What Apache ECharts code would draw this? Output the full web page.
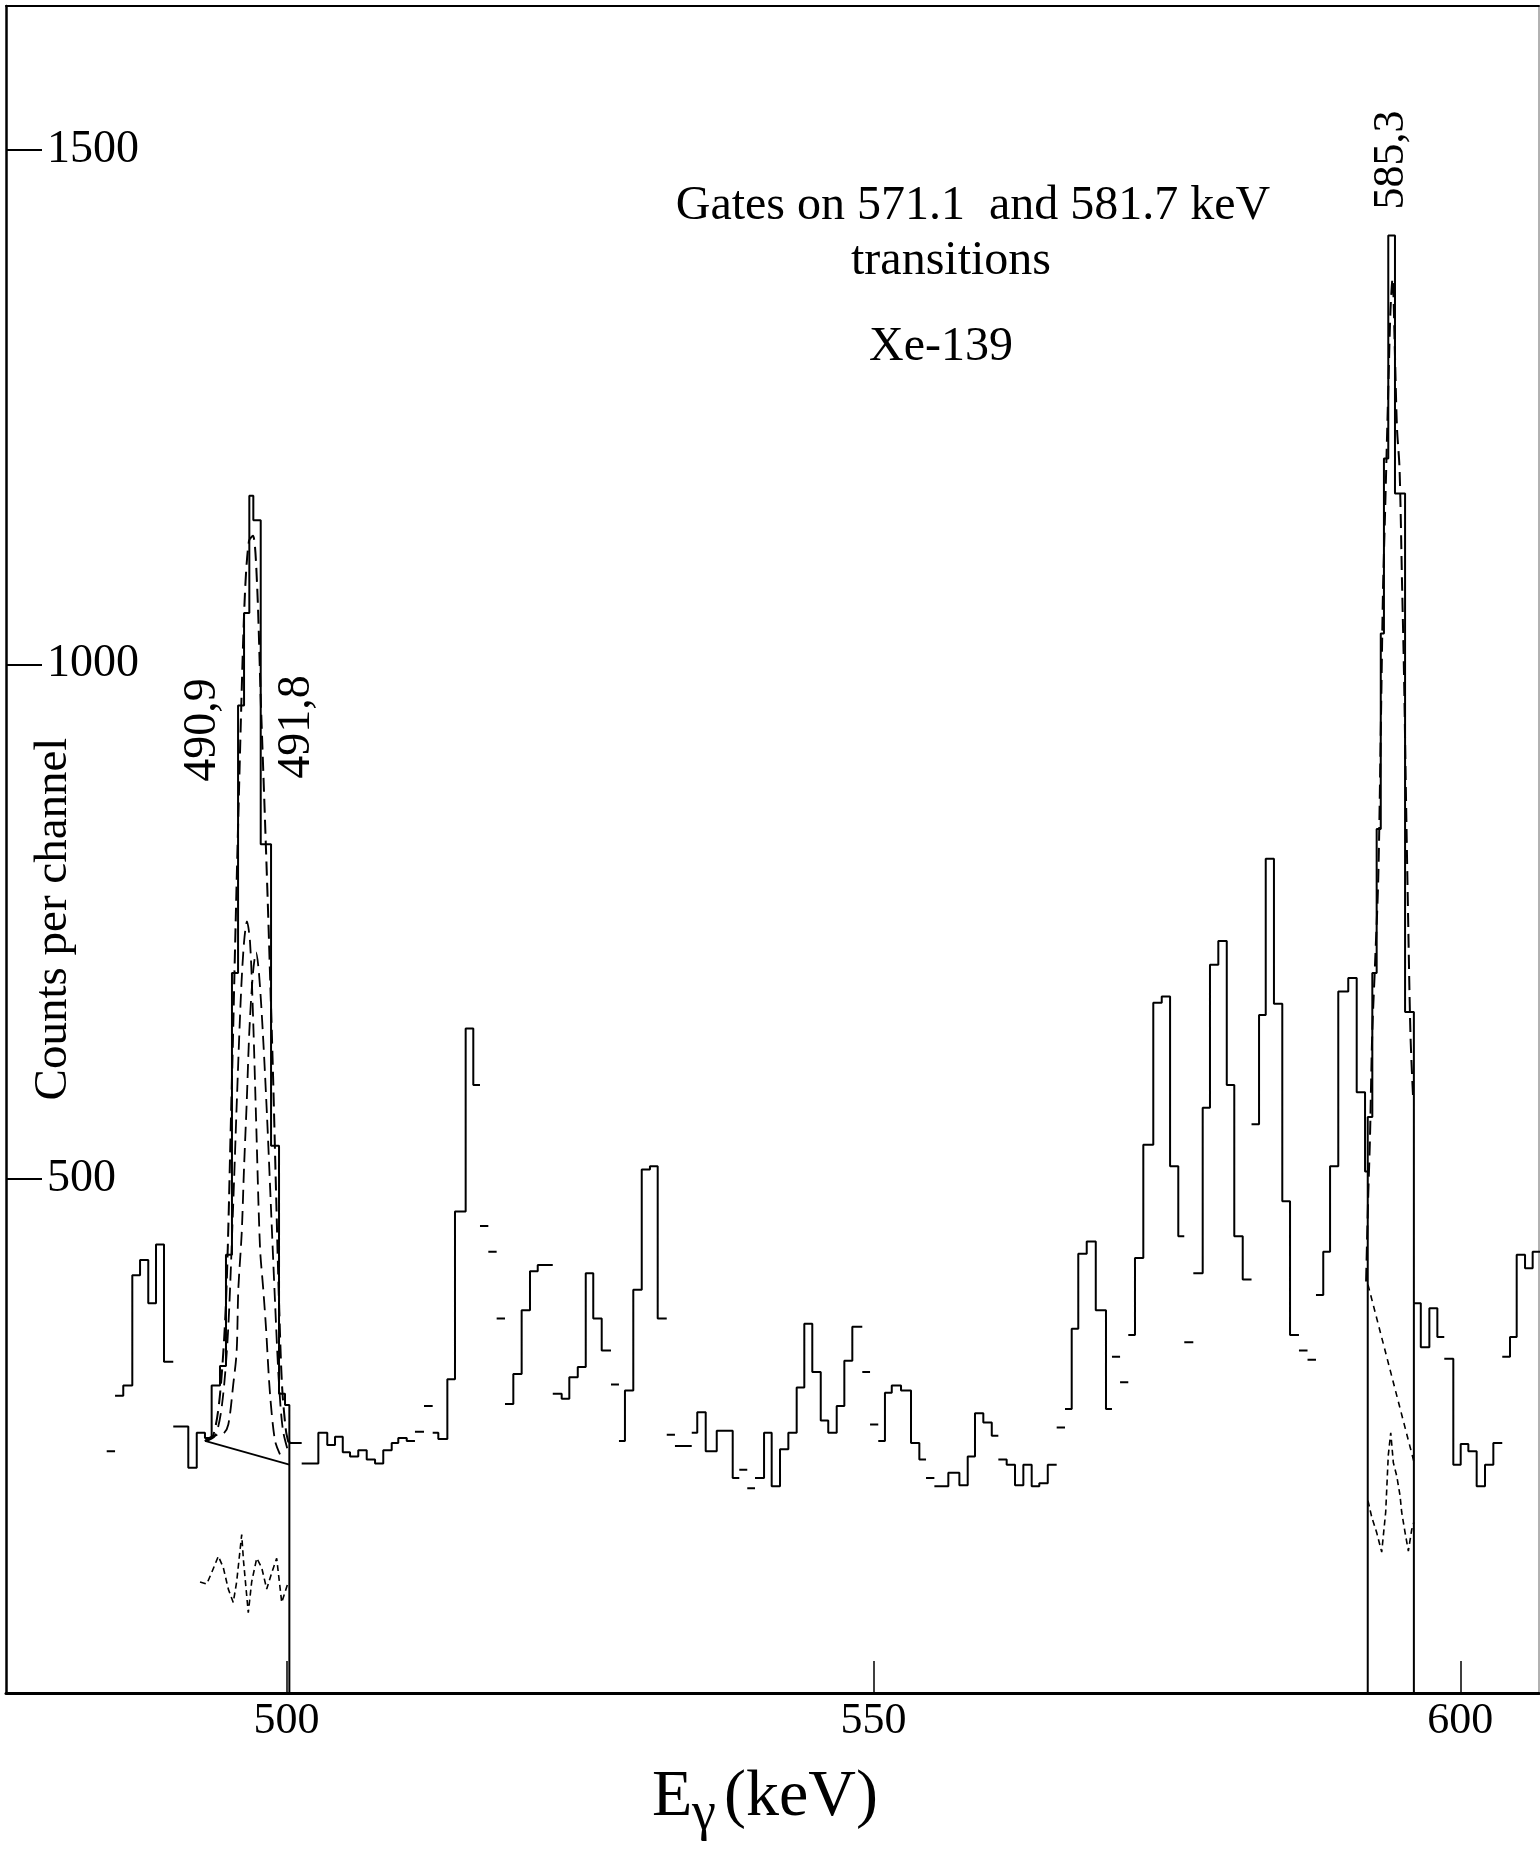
<!DOCTYPE html>
<html><head><meta charset="utf-8">
<script src="https://cdn.jsdelivr.net/npm/echarts@6/dist/echarts.min.js"></script>
<style>html,body{margin:0;padding:0;background:#fff}#c{width:1540px;height:1849px}</style>
</head><body><div id="c"></div>
<script>
// ---- spectrum histogram (bin start energy in keV, counts per channel) ----
const binStart = [484.68,485.39,486.09,486.86,487.52,488.22,488.88,489.56,490.35,491.63,
492.35,493.05,493.62,494.33,494.84,495.35,495.87,496.38,496.83,497.17,
497.80,498.68,499.36,499.87,500.24,501.29,502.71,503.47,504.13,504.79,
505.41,506.11,506.83,507.54,508.24,508.96,509.52,510.24,510.94,511.71,
512.45,512.93,513.70,514.35,515.26,515.91,516.48,517.19,517.90,518.61,
519.32,520.03,520.74,521.40,522.68,523.44,524.09,524.81,525.49,526.13,
526.85,527.64,528.32,528.83,529.54,530.26,530.96,531.62,532.39,533.09,
534.52,534.99,535.71,536.65,538.01,538.57,539.25,539.91,540.68,541.33,
542.04,542.75,543.46,544.11,544.79,545.51,546.15,546.87,547.52,548.20,
549.05,549.71,550.41,550.98,551.56,552.35,553.20,553.91,554.48,555.19,
556.38,557.32,558.03,558.65,559.36,560.08,560.64,561.35,562.06,562.77,
563.48,564.13,564.85,565.61,566.32,566.89,567.45,568.17,568.94,569.81,
570.32,571.01,571.71,572.28,572.99,573.84,574.56,575.27,575.97,576.48,
577.25,578.05,578.67,579.38,580.10,580.74,581.46,582.21,582.85,583.42,
584.12,584.83,585.49,586.25,586.98,587.70,588.32,588.90,589.60,590.45,
591.17,591.88,592.11,592.50,592.87,593.22,593.49,593.86,594.43,595.29,
596.04,596.63,597.36,598.04,598.63,599.40,600.03,600.68,601.39,602.10,
602.81,603.57,604.23,604.80,605.51,606.16];
const binCount = [235,289,299,406,421,379,436,322,259,219,
253,248,299,318,426,700,960,1050,1164,1140,
825,532,291,280,243,223,253,241,249,234,
230,236,227,223,236,243,248,245,254,279,
253,247,305,468,646,591,454,429,364,281,
310,372,410,416,291,286,307,317,408,364,
333,300,245,294,392,509,512,364,251,240,
253,273,235,255,209,217,199,209,253,201,
237,253,297,359,312,265,253,279,323,356,
312,261,245,292,299,294,243,227,209,201,
214,202,230,272,263,250,227,222,202,222,
201,204,222,258,276,354,427,439,372,276,
327,302,348,423,533,671,677,512,444,341,
408,569,708,731,591,444,402,553,659,811,
670,478,348,333,324,387,429,512,682,695,
584,507,560,700,840,1030,1200,1417,1166,662,
379,336,374,346,325,222,242,235,201,222,
243,327,346,426,413,429];
const binEnd = 607.2;
// bins whose left vertical edge is not drawn in the original plot
const gapBefore = [1,8,25,38,39,40,46,47,48,49,54,61,62,68,69,70,75,76,77,90,91,92,98,99,106,113,114,120,121,122,129,130,137,143,144,145,164,171];

// ---- fit of the 490.9 / 491.8 doublet ----
const fitLeftE = [493.05,493.74,494.33,494.84,495.27,495.69,496.12,496.46,496.80,497.14,497.48,497.82,498.16,498.51,498.85,499.10,499.36,499.61,499.95,500.24];
const fitLeftC = [245,250,290,380,560,760,950,1070,1120,1125,1080,960,850,730,600,490,380,300,255,240];
const compAE = [493.05,493.91,494.50,495.01,495.44,495.78,496.12,496.38,496.63,496.89,497.14,497.40,497.74,498.02,498.25,498.59,499.02,499.44];
const compAC = [245,250,280,350,470,580,680,730,750,730,660,560,433,392,355,291,245,232];
const compBE = [493.05,493.76,494.61,495.04,495.46,495.75,495.89,496.18,496.38,496.61,496.83,497.14,497.40,497.65,497.99,498.34,498.68,499.02,499.36,499.70,500.21];
const compBC = [245,250,252,261,300,332,392,447,511,575,643,700,720,700,640,560,470,380,300,255,232];
const bgLeftE = [493.05,500.24];
const bgLeftC = [245,222];
const residLeftE = [492.63,493.20,493.62,494.19,494.61,495.04,495.46,495.75,496.18,496.33,496.74,497.03,497.46,497.88,498.31,498.74,499.16,499.59,500.15];
const residLeftC = [108,106,117,133,122,101,88,108,154,129,78,108,131,122,101,117,131,88,108];

// ---- fit of the 585.3 peak ----
const fitRightE = [591.97,592.14,592.30,592.50,592.73,593.01,593.24,593.41,593.58,593.88,594.05,594.22,594.43,594.60,594.82,595.03,595.20,595.37,595.54,595.75,595.97];
const fitRightC = [400,480,540,644,708,794,950,1072,1145,1276,1345,1375,1300,1230,1190,1080,990,870,760,640,580];
const bgRightE = [592.13,596.04];
const bgRightC = [397,225];
const residRightE = [592.13,592.45,592.87,593.30,593.64,593.86,594.07,594.29,594.58,594.86,595.00,595.29,595.57,595.86,596.04];
const residRightC = [187,171,156,137,176,231,253,224,211,192,176,156,138,159,166];

// ---- fit-region marker lines ----
const markerE = [500.24,592.11,596.04];
const markerTop = [245,507,379];

// ---- axis ticks ----
const xTicks = [500,550,600];
const yTicks = [500,1000,1500];

function zip(a,b){return a.map((v,i)=>[v,b[i]]);}
const hist = [];
for (let i=0;i<binStart.length;i++){
  if (i>0 && gapBefore.indexOf(i)>=0){
    hist.push([binStart[i], binCount[i-1]]);
    hist.push([binStart[i], '-']);
  }
  hist.push([binStart[i], binCount[i]]);
}
hist.push([binEnd, binCount[binCount.length-1]]);
const markers = [];
markerE.forEach((e,i)=>{ markers.push([e,0]); markers.push([e,markerTop[i]]); markers.push([e,'-']); });

const SERIF = '"Liberation Serif","Times New Roman",serif';
const plain = v => String(v);
const base = {type:'line', symbol:'none', animation:false, silent:true, xAxisIndex:0, yAxisIndex:0};
const chart = echarts.init(document.getElementById('c'));
chart.setOption({
  animation:false,
  backgroundColor:'#fff',
  grid:{left:6,right:1,top:6,bottom:156,containLabel:false},
  xAxis:[{
    type:'value', min:476.1, max:606.7, position:'bottom',
    axisLine:{show:true,onZero:false,lineStyle:{color:'#000',width:3}},
    axisTick:{show:true,inside:true,length:32,customValues:xTicks,lineStyle:{color:'#000',width:1.5}},
    axisLabel:{show:true,customValues:xTicks,formatter:plain,fontFamily:SERIF,fontSize:44,color:'#000',margin:6},
    splitLine:{show:false}
  },{
    type:'value', min:476.1, max:606.7, position:'top',
    axisLine:{show:true,onZero:false,lineStyle:{color:'#000',width:2}},
    axisTick:{show:false}, axisLabel:{show:false}, splitLine:{show:false}
  }],
  yAxis:[{
    type:'value', min:0, max:1640, position:'left',
    axisLine:{show:true,onZero:false,lineStyle:{color:'#000',width:2.5}},
    axisTick:{show:true,inside:true,length:36,customValues:yTicks,lineStyle:{color:'#000',width:2}},
    axisLabel:{show:true,inside:true,customValues:yTicks,formatter:plain,margin:41,fontFamily:SERIF,fontSize:46,color:'#000'},
    splitLine:{show:false}
  },{
    type:'value', min:0, max:1640, position:'right',
    axisLine:{show:true,onZero:false,lineStyle:{color:'#999',width:1.5}},
    axisTick:{show:false}, axisLabel:{show:false}, splitLine:{show:false}
  }],
  series:[
    Object.assign({}, base, {name:'spectrum', step:'end', data:hist, connectNulls:false,
      lineStyle:{color:'#000',width:2}}),
    Object.assign({}, base, {name:'fit 490.9+491.8', data:zip(fitLeftE,fitLeftC), smooth:0.3,
      lineStyle:{color:'#000',width:2,type:[14,7]}}),
    Object.assign({}, base, {name:'490.9', data:zip(compAE,compAC), smooth:0.3,
      lineStyle:{color:'#000',width:1.8,type:[14,7]}}),
    Object.assign({}, base, {name:'491.8', data:zip(compBE,compBC), smooth:0.3,
      lineStyle:{color:'#000',width:1.8,type:[14,7]}}),
    Object.assign({}, base, {name:'bg left', data:zip(bgLeftE,bgLeftC),
      lineStyle:{color:'#000',width:1.8}}),
    Object.assign({}, base, {name:'resid left', data:zip(residLeftE,residLeftC),
      lineStyle:{color:'#000',width:1.6,type:[6,4]}}),
    Object.assign({}, base, {name:'fit 585.3', data:zip(fitRightE,fitRightC), smooth:0.3,
      lineStyle:{color:'#000',width:2,type:[14,7]}}),
    Object.assign({}, base, {name:'bg right', data:zip(bgRightE,bgRightC),
      lineStyle:{color:'#000',width:1.6,type:[6,5]}}),
    Object.assign({}, base, {name:'resid right', data:zip(residRightE,residRightC),
      lineStyle:{color:'#000',width:1.6,type:[6,4]}}),
    Object.assign({}, base, {name:'markers', data:markers, connectNulls:false,
      lineStyle:{color:'#000',width:2}})
  ],
  graphic:[
    {type:'text', x:54, y:919, rotation:Math.PI/2, silent:true,
      style:{text:'Counts per channel', font:'47px '+SERIF, fill:'#000', align:'center', verticalAlign:'middle', textAlign:'center', textVerticalAlign:'middle'}},
    {type:'text', x:203, y:730, rotation:Math.PI/2, silent:true,
      style:{text:'490,9', font:'46px '+SERIF, fill:'#000', align:'center', verticalAlign:'middle', textAlign:'center', textVerticalAlign:'middle'}},
    {type:'text', x:297, y:727, rotation:Math.PI/2, silent:true,
      style:{text:'491,8', font:'46px '+SERIF, fill:'#000', align:'center', verticalAlign:'middle', textAlign:'center', textVerticalAlign:'middle'}},
    {type:'text', x:1391, y:160, rotation:Math.PI/2, silent:true,
      style:{text:'585,3', font:'44px '+SERIF, fill:'#000', align:'center', verticalAlign:'middle', textAlign:'center', textVerticalAlign:'middle'}},
    {type:'text', x:973, y:206, silent:true,
      style:{text:'Gates on 571.1  and 581.7 keV', font:'48px '+SERIF, fill:'#000', align:'center', verticalAlign:'middle', textAlign:'center', textVerticalAlign:'middle'}},
    {type:'text', x:951, y:261, silent:true,
      style:{text:'transitions', font:'48px '+SERIF, fill:'#000', align:'center', verticalAlign:'middle', textAlign:'center', textVerticalAlign:'middle'}},
    {type:'text', x:941, y:347, silent:true,
      style:{text:'Xe-139', font:'48px '+SERIF, fill:'#000', align:'center', verticalAlign:'middle', textAlign:'center', textVerticalAlign:'middle'}},
    {type:'text', x:652, y:1798, silent:true,
      style:{text:'E', font:'66px '+SERIF, fill:'#000', align:'left', verticalAlign:'middle', textAlign:'left', textVerticalAlign:'middle'}},
    {type:'text', x:692, y:1815, silent:true,
      style:{text:'γ', font:'54px '+SERIF, fill:'#000', align:'left', verticalAlign:'middle', textAlign:'left', textVerticalAlign:'middle'}},
    {type:'text', x:724, y:1798, silent:true,
      style:{text:'(keV)', font:'66px '+SERIF, fill:'#000', align:'left', verticalAlign:'middle', textAlign:'left', textVerticalAlign:'middle'}}
  ]
});
</script>
</body></html>
